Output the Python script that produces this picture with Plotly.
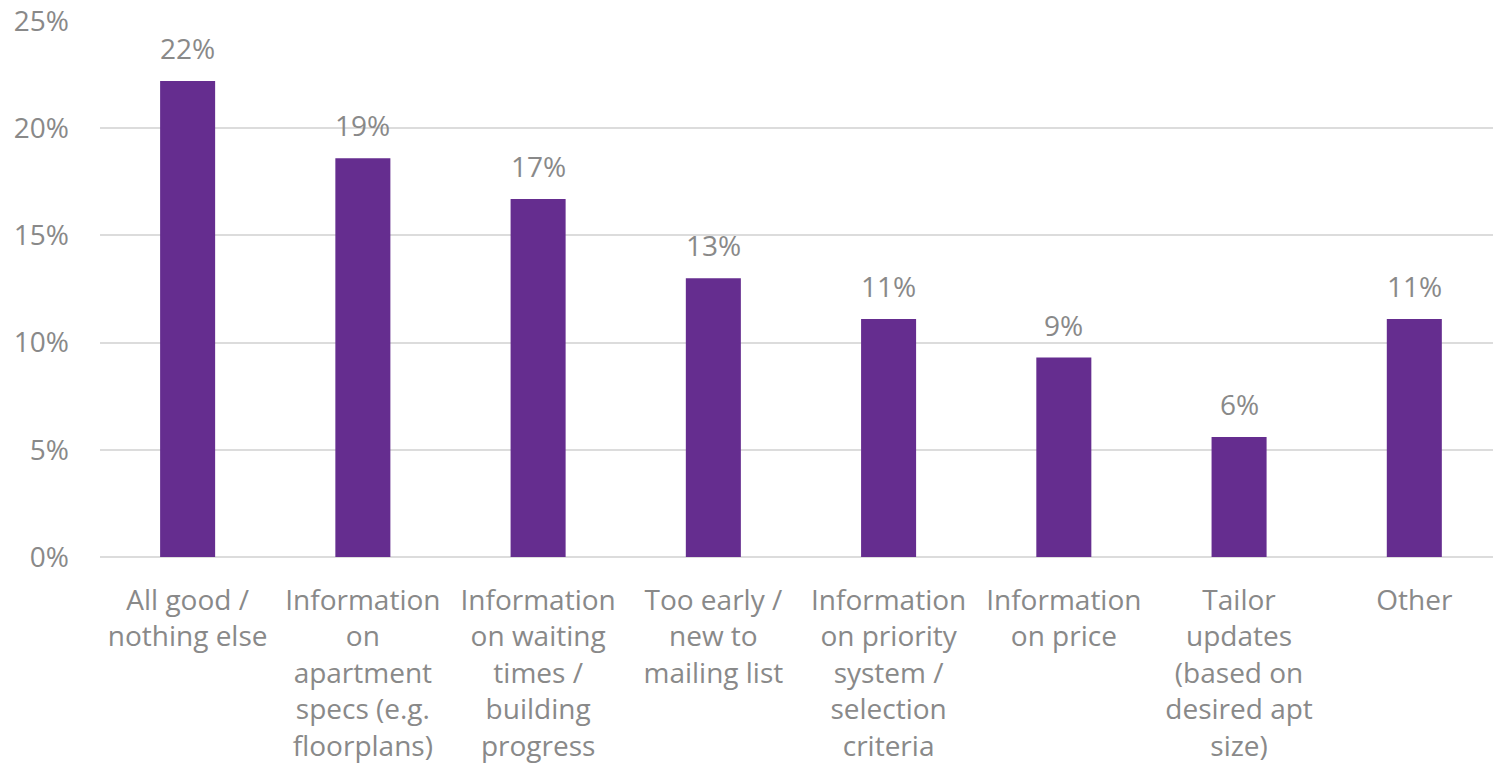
import plotly.graph_objects as go

# Survey responses: what else subscribers would like to receive
categories = [
    "All good /<br>nothing else",
    "Information<br>on<br>apartment<br>specs (e.g.<br>floorplans)",
    "Information<br>on waiting<br>times /<br>building<br>progress",
    "Too early /<br>new to<br>mailing list",
    "Information<br>on priority<br>system /<br>selection<br>criteria",
    "Information<br>on price",
    "Tailor<br>updates<br>(based on<br>desired apt<br>size)",
    "Other",
]
shares = [22.2, 18.6, 16.7, 13.0, 11.1, 9.3, 5.6, 11.1]
y_ticks = [0, 5, 10, 15, 20, 25]
y_tick_labels = ["0%", "5%", "10%", "15%", "20%", "25%"]

BAR_COLOR = "#652d8f"
TEXT_COLOR = "#898989"
GRID_COLOR = "#dcdcdc"
FONT = "Open Sans"
SIZE = 28

fig = go.Figure(
    go.Bar(
        x=categories,
        y=shares,
        marker=dict(color=BAR_COLOR, line=dict(width=0)),
        width=0.314,
        hoverinfo="skip",
    )
)

# value labels above each bar, rounded to whole percent
for cat, val in zip(categories, shares):
    fig.add_annotation(
        x=cat, y=val, text=f"{val:.0f}%", showarrow=False,
        yanchor="bottom", yshift=12,
        font=dict(family=FONT, size=SIZE, color=TEXT_COLOR),
    )

fig.update_layout(
    width=1493, height=769,
    margin=dict(l=100, r=0, t=21, b=212),
    paper_bgcolor="white", plot_bgcolor="white",
    showlegend=False,
    font=dict(family=FONT, size=SIZE, color=TEXT_COLOR),
    xaxis=dict(
        type="category",
        range=[-0.5, 7.449],
        tickangle=0,
        showgrid=False, showline=False, zeroline=False,
        ticks="", ticklabelstandoff=24,
        tickfont=dict(family=FONT, size=SIZE, color=TEXT_COLOR),
        fixedrange=True,
    ),
    yaxis=dict(
        range=[0, 25],
        tickvals=y_ticks, ticktext=y_tick_labels,
        showgrid=True, gridcolor=GRID_COLOR, gridwidth=1.5,
        zeroline=True, zerolinecolor=GRID_COLOR, zerolinewidth=1.5,
        showline=False, ticks="", ticklabelstandoff=30,
        tickfont=dict(family=FONT, size=SIZE, color=TEXT_COLOR),
        fixedrange=True,
    ),
)

fig.write_html("out.html", config={"displayModeBar": False})
